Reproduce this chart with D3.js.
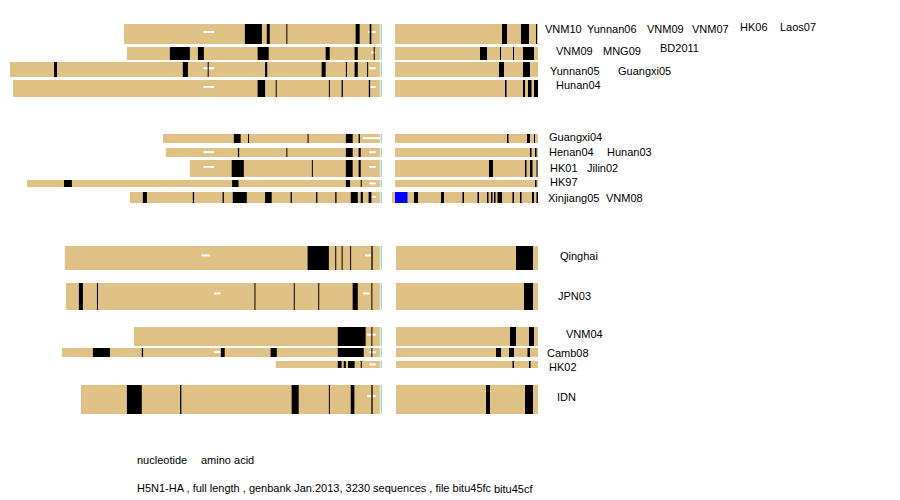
<!DOCTYPE html>
<html>
<head>
<meta charset="utf-8">
<script src="https://cdn.jsdelivr.net/npm/d3@7"></script>
<style>
body { margin: 0; background: #fff; }
text { font-family: "Liberation Sans", Arial, sans-serif; font-size: 11px; fill: #000; }
</style>
</head>
<body>
<div id="chart"></div>
<script>
var width = 900, height = 500;
var tan = "#dfc185";

// alignment rows: y band, nucleotide start, black/white columns in nt and aa units
var rows = [
    { y0: 24, y1: 44, nt: 536, aa: 0,
      blk: [[1105,1185],[1208,1222],[1300,1304],[1626,1645],[1692,1700]], wht: [[1683,1720],[910,960]],
      ablk: [[428,448],[504,536],[564,568]] },
    { y0: 47, y1: 60, nt: 550, aa: 0,
      blk: [[752,846],[884,912],[1165,1217],[1485,1504],[1621,1636],[1711,1714]], wht: [[1700,1720]],
      ablk: [[340,368],[420,424],[472,476],[512,556]] },
    { y0: 62, y1: 77, nt: 0, aa: 0,
      blk: [[207,221],[813,837],[930,934],[1200,1210],[1466,1485],[1580,1585],[1621,1636],[1680,1684]], wht: [[1690,1720],[910,960]],
      ablk: [[416,436],[512,540]] },
    { y0: 80, y1: 97, nt: 14, aa: 0,
      blk: [[1165,1200],[1250,1254],[1500,1504],[1560,1566],[1688,1694]], wht: [[1690,1720],[910,960]],
      ablk: [[440,446],[512,520],[532,546],[556,572]] },
    { y0: 134, y1: 143, nt: 720, aa: 0,
      blk: [[1053,1085],[1120,1124],[1400,1404],[1580,1612],[1640,1646]], wht: [[1660,1740]],
      ablk: [[448,454],[528,540],[556,560]] },
    { y0: 148, y1: 157, nt: 733, aa: 0,
      blk: [[1072,1078],[1300,1304],[1580,1612],[1640,1650]], wht: [[1690,1720],[910,960]],
      ablk: [[540,546],[560,566]] },
    { y0: 160, y1: 177, nt: 846, aa: 0,
      blk: [[1043,1100],[1420,1424],[1580,1612],[1640,1650]], wht: [[1690,1720],[910,960]],
      ablk: [[376,392],[520,526],[540,550],[566,570]] },
    { y0: 180, y1: 187, nt: 80, aa: 0,
      blk: [[254,291],[1045,1075],[1580,1600],[1650,1654]], wht: [[1690,1720]],
      ablk: [[560,566]] },
    { y0: 192, y1: 203, nt: 564, aa: -12, blue: [0,50],
      blk: [[625,644],[860,866],[1000,1006],[1048,1114],[1200,1231],[1320,1326],[1440,1446],[1530,1536],[1603,1636],[1650,1660],[1687,1700]], wht: [[1704,1720]],
      ablk: [[76,92],[184,196],[270,276],[330,336],[368,374],[384,390],[396,402],[410,428],[470,476],[500,506],[548,556],[566,572]] },
    { y0: 246, y1: 270, nt: 258, aa: 4,
      blk: [[1400,1500],[1530,1534],[1560,1564],[1600,1604],[1700,1706]], wht: [[1670,1698],[900,940]],
      ablk: [[484,552]] },
    { y0: 283, y1: 310, nt: 263, aa: 4,
      blk: [[324,343],[409,413],[1150,1154],[1335,1339],[1450,1454],[1612,1636],[1700,1704]], wht: [[1660,1690],[960,990]],
      ablk: [[516,552]] },
    { y0: 327, y1: 346, nt: 583, aa: 4,
      blk: [[1542,1673],[1700,1704]], wht: [[1680,1720]],
      ablk: [[460,484],[536,556]] },
    { y0: 348, y1: 357, nt: 244, aa: 4,
      blk: [[390,470],[620,626],[992,1010],[1226,1255],[1542,1664],[1700,1704]], wht: [[1690,1720],[960,990]],
      ablk: [[404,424],[456,476],[530,540]] },
    { y0: 361, y1: 368, nt: 1250, aa: 4,
      blk: [[1542,1560],[1570,1580],[1590,1621],[1650,1654]], wht: [[1690,1720]],
      ablk: [[470,476],[536,542]] },
    { y0: 385, y1: 414, nt: 334, aa: 4,
      blk: [[550,620],[800,806],[1325,1358],[1500,1504],[1603,1620],[1700,1706]], wht: [[1680,1720]],
      ablk: [[364,380],[520,552]] }
];

var labels = [
    ["VNM10",545,33],["Yunnan06",587,33],["VNM09",647,33],["VNM07",692,33],["HK06",740,31],["Laos07",780,31],
    ["VNM09",556,55],["MNG09",603,55],["BD2011",660,52],
    ["Yunnan05",550,75],["Guangxi05",618,75],["Hunan04",556,89],
    ["Guangxi04",549,141],["Henan04",549,156],["Hunan03",607,156],["HK01",550,172],["Jilin02",587,172],
    ["HK97",550,186],["Xinjiang05",548,202],["VNM08",606,202],
    ["Qinghai",560,260],["JPN03",558,300],["VNM04",566,338],["Camb08",547,357],["HK02",549,371],["IDN",557,401],
    ["nucleotide",137,464],["amino acid",201,464],
    ["H5N1-HA , full length , genbank Jan.2013, 3230 sequences , file bitu45fc",137,492],["bitu45cf",494,493]
];

var svg = d3.select("#chart").append("svg").attr("width", width).attr("height", height);

var ntScale = d3.scaleLinear().domain([0, 1750]).range([10, 382]);
var aaScale = d3.scaleLinear().domain([0, 572]).range([395, 538]);

rows.forEach(function (r) {
    var g = svg.append("g");
    var h = r.y1 - r.y0;
    g.append("rect").attr("x", ntScale(r.nt)).attr("y", r.y0)
        .attr("width", ntScale(1740) - ntScale(r.nt)).attr("height", h).attr("fill", tan);
    g.append("rect").attr("x", ntScale(1744)).attr("y", r.y0)
        .attr("width", 1).attr("height", h).attr("fill", "#7fc8c8");
    g.selectAll(".w").data(r.wht).enter().append("rect")
        .attr("x", d => ntScale(d[0])).attr("y", r.y0 + h * 0.35)
        .attr("width", d => ntScale(d[1]) - ntScale(d[0])).attr("height", 2).attr("fill", "#fff");
    g.selectAll(".b").data(r.blk).enter().append("rect")
        .attr("x", d => ntScale(d[0])).attr("y", r.y0)
        .attr("width", d => Math.max(1, ntScale(d[1]) - ntScale(d[0]))).attr("height", h).attr("fill", "#000");

    g.append("rect").attr("x", aaScale(r.aa)).attr("y", r.y0)
        .attr("width", aaScale(572) - aaScale(r.aa)).attr("height", h).attr("fill", tan);
    if (r.blue) {
        g.append("rect").attr("x", aaScale(r.blue[0])).attr("y", r.y0)
            .attr("width", aaScale(r.blue[1]) - aaScale(r.blue[0])).attr("height", h).attr("fill", "#0000ff");
    }
    g.selectAll(".ab").data(r.ablk).enter().append("rect")
        .attr("x", d => aaScale(d[0])).attr("y", r.y0)
        .attr("width", d => Math.max(1, aaScale(d[1]) - aaScale(d[0]))).attr("height", h).attr("fill", "#000");
});

svg.selectAll(".lab").data(labels).enter().append("text")
    .attr("x", d => d[1]).attr("y", d => d[2]).text(d => d[0]);
</script>
</body>
</html>
